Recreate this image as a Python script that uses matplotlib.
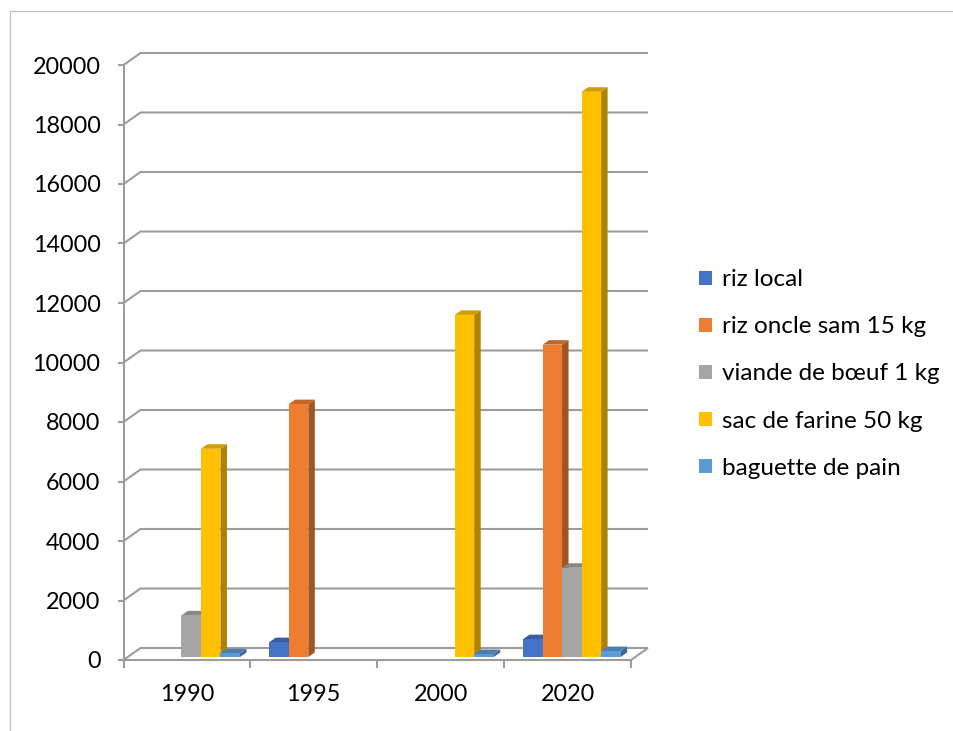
import matplotlib
matplotlib.use("Agg")
import matplotlib.pyplot as plt
import numpy as np
from matplotlib.patches import Polygon, Rectangle, Patch
from matplotlib.colors import to_rgb

plt.rcParams['font.family'] = ['Lato', 'DejaVu Sans']

# prix par année
years = ["1990", "1995", "2000", "2020"]
series = ["riz local", "riz oncle sam 15 kg", "viande de bœuf 1 kg",
          "sac de farine 50 kg", "baguette de pain"]
riz_local = [0, 500, 0, 600]
riz_oncle_sam = [0, 8500, 0, 10500]
viande_boeuf = [1400, 0, 0, 3000]
sac_farine = [7000, 0, 11500, 19000]
baguette = [125, 0, 100, 200]
values = [riz_local, riz_oncle_sam, viande_boeuf, sac_farine, baguette]
colors = ["#4472C4", "#ED7D31", "#A5A5A5", "#FFC000", "#5B9BD5"]
y_ticks = list(range(0, 20001, 2000))

grid_col = "#9C9C9C"
W, H = 954, 731

fig = plt.figure(figsize=(W / 100, H / 100), dpi=100)
ax = fig.add_axes([123.5 / W, 71 / H, (631 - 123.5) / W, (660 - 65) / H])
ax.set_xlim(0, len(years))
ax.set_ylim(0, 20000)
for s in ax.spines.values():
    s.set_visible(False)

# pixel -> data offsets for the fake 3d depth
ppx = ax.bbox.width / len(years)
ppy = ax.bbox.height / 20000


def off(px, py):
    return px / ppx, py / ppy


wx, wy = off(17, 12)      # back wall
fx, fy = off(4.25, 3)     # front of the bars
dx, dy = off(6.5, 4.5)    # bar depth

n = len(years)
line_kw = dict(color=grid_col, lw=1.5, clip_on=False, solid_joinstyle='miter',
               solid_capstyle='butt')
for v in y_ticks:
    ax.plot([0, wx, n + wx], [v, v + wy, v + wy], zorder=1, **line_kw)
ax.plot([0, n, n + wx], [0, 0, wy], zorder=1, **line_kw)
ax.plot([0, 0], [0, 20000], zorder=1, **line_kw)

ax.set_yticks(y_ticks)
ax.set_yticklabels([str(v) for v in y_ticks])
ax.tick_params(axis='y', direction='out', length=4.5, width=1.5, color=grid_col,
               labelsize=16.8, pad=12)
ax.set_xticks(np.arange(n + 1))
ax.set_xticklabels([])
ax.set_xticks(np.arange(n) + 0.5, minor=True)
ax.set_xticklabels(years, minor=True)
ax.tick_params(axis='x', which='major', direction='out', length=6, width=1.5,
               color=grid_col)
ax.tick_params(axis='x', which='minor', length=0, labelsize=16.8, pad=17)


def shade(c, f):
    return tuple(min(1, x * f) for x in to_rgb(c))


w = 1 / 6.5
for k, (vals, c) in enumerate(zip(values, colors)):
    idx = [i for i, v in enumerate(vals) if v > 0]
    xs = np.array(idx) + 0.5 + (k - 2) * w + fx
    hs = np.array([vals[i] for i in idx])
    for x, h in zip(xs, hs):
        x0, x1 = x - w / 2, x + w / 2
        y0, y1 = fy, fy + h
        ax.add_patch(Polygon([(x1, y0), (x1 + dx, y0 + dy), (x1 + dx, y1 + dy), (x1, y1)],
                             closed=True, fc=shade(c, 0.68), ec='none',
                             zorder=2 + 2 * k, clip_on=False))
        ax.add_patch(Polygon([(x0, y1), (x1, y1), (x1 + dx, y1 + dy), (x0 + dx, y1 + dy)],
                             closed=True, fc=shade(c, 0.82), ec='none',
                             zorder=2 + 2 * k, clip_on=False))
    ax.bar(xs, hs, width=w, bottom=fy, color=c, zorder=3 + 2 * k, clip_on=False)

handles = [Patch(facecolor=c) for c in colors]
fig.legend(handles, series, loc='center left', bbox_to_anchor=(699 / W, (H - 374) / H),
           frameon=False, handlelength=0.55, handleheight=0.55, handletextpad=0.4,
           labelspacing=1.07, borderpad=0, borderaxespad=0, fontsize=17.5)

# chart area border (only top/left in frame)
fig.add_artist(Rectangle((10 / W, -0.1), 1.2, (H - 10.5) / H + 0.1, transform=fig.transFigure,
                         fill=False, ec="#BFBFBF", lw=0.9))

fig.savefig("out.png", dpi=100)
